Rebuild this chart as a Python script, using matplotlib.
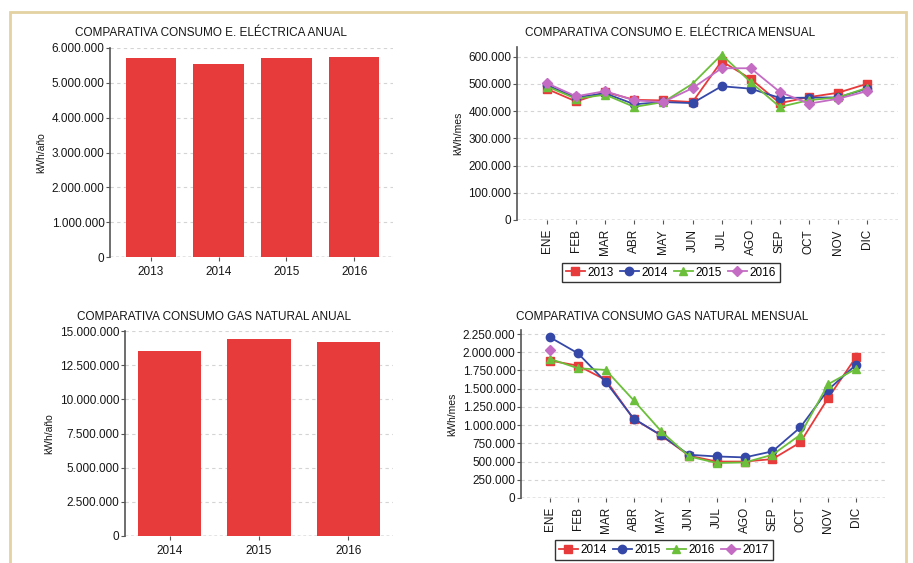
import matplotlib
matplotlib.use('Agg')
import matplotlib.pyplot as plt
import numpy as np
from matplotlib.patches import Rectangle
from matplotlib.ticker import FuncFormatter

# ---------------------------------------------------------------------------
# Data
# ---------------------------------------------------------------------------

elec_years = ['2013', '2014', '2015', '2016']
elec_annual = [5700000, 5530000, 5700000, 5750000]

gas_years = ['2014', '2015', '2016']
gas_annual = [13530000, 14390000, 14220000]

months = ['ENE', 'FEB', 'MAR', 'ABR', 'MAY', 'JUN',
          'JUL', 'AGO', 'SEP', 'OCT', 'NOV', 'DIC']

elec_2013 = [481000, 435000, 470000, 441000, 439000, 433000,
             583000, 518000, 429000, 451000, 467000, 500000]
elec_2014 = [495000, 450000, 465000, 425000, 433000, 429000,
             491000, 482000, 448000, 449000, 450000, 482000]
elec_2015 = [490000, 445000, 460000, 415000, 433000, 500000,
             607000, 506000, 415000, 440000, 450000, 485000]
elec_2016 = [502000, 454000, 473000, 439000, 433000, 484000,
             557000, 557000, 470000, 427000, 445000, 473000]

gas_2014 = [1885000, 1816000, 1620000, 1086000, 858000, 580000,
            500000, 500000, 534000, 762000, 1369000, 1930000]
gas_2015 = [2204000, 1985000, 1593000, 1090000, 858000, 593000,
            570000, 557000, 640000, 968000, 1483000, 1826000]
gas_2016 = [1908000, 1780000, 1757000, 1342000, 913000, 570000,
            480000, 488000, 593000, 867000, 1561000, 1771000]
gas_2017 = [2030000] + [np.nan] * 11

# ---------------------------------------------------------------------------
# Style
# ---------------------------------------------------------------------------

plt.rcParams['font.family'] = ['Liberation Sans', 'DejaVu Sans']
TXT = '#161616'
BAR = '#e63a3b'
RED, BLUE, GREEN, PURPLE = '#e63a3b', '#3548a8', '#6cbf3a', '#c46cc4'

W, H = 913, 563
fig = plt.figure(figsize=(W / 100, H / 100), dpi=100)
fig.patch.set_facecolor('white')

# tan frame
fig.patches.append(Rectangle((10 / W, 1 - 600 / H), 896 / W, 588 / H,
                             transform=fig.transFigure, fill=False,
                             edgecolor='#e4d2a2', linewidth=2))


def px_axes(left, top, right, bottom):
    return fig.add_axes([left / W, 1 - bottom / H, (right - left) / W, (bottom - top) / H])


def dotted(v, pos):
    return f'{int(round(v)):,}'.replace(',', '.')


def style(ax, ylabel):
    for s in ['top', 'right']:
        ax.spines[s].set_visible(False)
    ax.spines['left'].set_color('#555555')
    ax.spines['left'].set_linewidth(1.2)
    ax.spines['bottom'].set_visible(False)
    ax.yaxis.set_major_formatter(FuncFormatter(dotted))
    ax.grid(axis='y', color='#d4d4d4', linestyle=(0, (3, 3)), linewidth=0.8)
    ax.set_axisbelow(True)
    ax.tick_params(axis='y', labelsize=8.5, colors='#555555', labelcolor=TXT, length=3, pad=1)
    ax.tick_params(axis='x', labelsize=8.5, colors='#555555', labelcolor=TXT, length=3)
    ax.set_ylabel(ylabel, fontsize=7.5, color=TXT, labelpad=4)
    ax.axhline(0, color='#777777', linestyle=(0, (2, 2)), linewidth=1.0, zorder=0.5)


def add_legend(ax, cx, cy):
    h, l = ax.get_legend_handles_labels()
    fig.legend(h, l, loc='center', bbox_to_anchor=(cx / W, 1 - cy / H), ncol=4,
               fontsize=8.5, frameon=True, fancybox=False, edgecolor='#333333',
               handlelength=1.6, handletextpad=0.25, columnspacing=0.5,
               borderpad=0.3, borderaxespad=0, framealpha=1)


# ---------------------------------------------------------------------------
# Annual electricity
# ---------------------------------------------------------------------------

ax1 = px_axes(110, 48, 393, 257)
ax1.bar(range(len(elec_years)), elec_annual, width=0.74, color=BAR, zorder=2)
ax1.set_xlim(-0.6, 3.57)
ax1.set_ylim(0, 6000000)
ax1.set_yticks(np.arange(0, 6000001, 1000000))
ax1.set_xticks(range(len(elec_years)), elec_years)
style(ax1, 'kWh/año')
fig.text(211 / W, 1 - 33 / H, 'COMPARATIVA CONSUMO E. ELÉCTRICA ANUAL',
         ha='center', va='center', fontsize=8.5, color=TXT)

# ---------------------------------------------------------------------------
# Annual gas
# ---------------------------------------------------------------------------

ax3 = px_axes(125, 331, 393, 536)
ax3.bar(range(len(gas_years)), gas_annual, width=0.71, color=BAR, zorder=2)
ax3.set_xlim(-0.5, 2.5)
ax3.set_ylim(0, 15000000)
ax3.set_yticks(np.arange(0, 15000001, 2500000))
ax3.set_xticks(range(len(gas_years)), gas_years)
style(ax3, 'kWh/año')
fig.text(214 / W, 1 - 317 / H, 'COMPARATIVA CONSUMO GAS NATURAL ANUAL',
         ha='center', va='center', fontsize=8.5, color=TXT)

# ---------------------------------------------------------------------------
# Monthly electricity
# ---------------------------------------------------------------------------

ax2 = px_axes(517, 47, 898, 220)
x = np.arange(len(months))
for vals, col, mk, lab in [(elec_2013, RED, 's', '2013'),
                           (elec_2014, BLUE, 'o', '2014'),
                           (elec_2015, GREEN, '^', '2015'),
                           (elec_2016, PURPLE, 'D', '2016')]:
    ax2.plot(x, vals, color=col, marker=mk, markersize=6 if mk != 'D' else 5,
             linewidth=1.3, label=lab, zorder=3)
ax2.set_xlim(-1.03, 12.06)
ax2.set_ylim(0, 635000)
ax2.set_yticks(np.arange(0, 600001, 100000))
ax2.set_xticks(x, months, rotation=90)
style(ax2, 'kWh/mes')
fig.text(670 / W, 1 - 33 / H, 'COMPARATIVA CONSUMO E. ELÉCTRICA MENSUAL',
         ha='center', va='center', fontsize=8.5, color=TXT)
add_legend(ax2, 671, 272.5)

# ---------------------------------------------------------------------------
# Monthly gas
# ---------------------------------------------------------------------------

ax4 = px_axes(521, 330, 885, 498)
for vals, col, mk, lab in [(gas_2014, RED, 's', '2014'),
                           (gas_2015, BLUE, 'o', '2015'),
                           (gas_2016, GREEN, '^', '2016'),
                           (gas_2017, PURPLE, 'D', '2017')]:
    ax4.plot(x, vals, color=col, marker=mk, markersize=6 if mk != 'D' else 5,
             linewidth=1.3, label=lab, zorder=3)
ax4.set_xlim(-1.05, 12.05)
ax4.set_ylim(0, 2305000)
ax4.set_yticks(np.arange(0, 2250001, 250000))
ax4.set_xticks(x, months, rotation=90)
style(ax4, 'kWh/mes')
fig.text(662 / W, 1 - 317 / H, 'COMPARATIVA CONSUMO GAS NATURAL MENSUAL',
         ha='center', va='center', fontsize=8.5, color=TXT)
add_legend(ax4, 664, 550)

fig.savefig('out.png', dpi=100)
